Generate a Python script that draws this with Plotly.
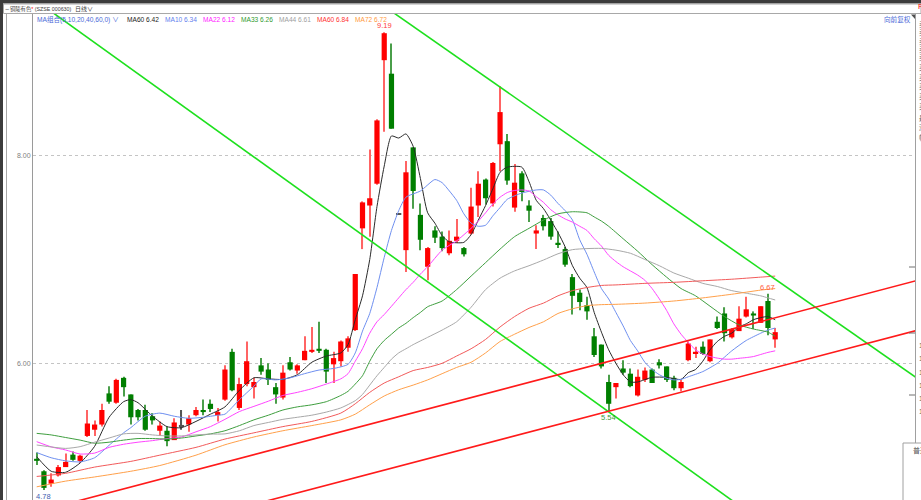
import plotly.graph_objects as go

# daily candles (index 0 = first visible day)
opens = [5.08, 4.96, 4.84, 4.92, 5.00, 5.12, 5.06, 5.30, 5.36, 5.41,
         5.71, 5.62, 5.86, 5.70, 5.55, 5.55, 5.49, 5.35, 5.35, 5.26,
         5.40, 5.41, 5.50, 5.55, 5.61, 5.50, 5.65, 6.11, 5.57, 5.80,
         5.77, 5.98, 5.94, 5.77, 5.67, 6.01, 5.93, 6.03, 6.11, 6.14,
         6.13, 5.99, 6.02, 6.15, 6.32, 7.30, 7.52, 7.73, 8.92, 8.79,
         7.44, 7.09, 8.08, 7.43, 6.93, 7.28, 7.22, 7.06, 7.18, 7.11,
         7.25, 7.52, 7.77, 7.54, 8.11, 8.14, 7.50, 7.83, 7.52, 7.25,
         7.40, 7.37, 7.16, 7.10, 6.83, 6.68, 6.56, 6.26, 6.18, 5.82,
         5.77, 5.95, 5.90, 5.69, 5.84, 5.94, 6.01, 5.97, 5.86, 5.76,
         6.03, 6.10, 6.16, 6.02, 6.40, 6.48, 6.25, 6.31, 6.45, 6.48,
         6.39, 6.60, 6.23]
highs = [5.14, 4.97, 4.94, 5.02, 5.13, 5.15, 5.12, 5.55, 5.45, 5.61,
         5.78, 5.85, 5.87, 5.70, 5.56, 5.60, 5.52, 5.44, 5.39, 5.47,
         5.55, 5.50, 5.58, 5.65, 5.65, 5.57, 5.98, 6.14, 5.86, 6.21,
         5.86, 6.05, 6.00, 5.81, 5.98, 6.06, 5.99, 6.26, 6.35, 6.40,
         6.14, 6.11, 6.22, 6.26, 6.86, 7.56, 8.06, 8.35, 9.19, 9.08,
         7.44, 7.95, 8.08, 7.54, 7.12, 7.32, 7.27, 7.28, 7.39, 7.12,
         7.69, 7.85, 7.78, 7.94, 8.67, 8.21, 7.92, 7.85, 7.57, 7.33,
         7.43, 7.40, 7.27, 7.12, 6.86, 6.71, 6.64, 6.34, 6.18, 5.89,
         5.81, 6.03, 5.95, 5.94, 5.96, 5.95, 6.04, 5.97, 5.88, 5.84,
         6.21, 6.16, 6.21, 6.23, 6.45, 6.54, 6.34, 6.55, 6.64, 6.50,
         6.55, 6.67, 6.34]
lows = [5.02, 4.78, 4.81, 4.91, 5.00, 5.06, 5.04, 5.29, 5.30, 5.39,
        5.61, 5.61, 5.68, 5.41, 5.45, 5.35, 5.41, 5.30, 5.20, 5.26,
        5.36, 5.34, 5.49, 5.50, 5.53, 5.44, 5.64, 5.73, 5.55, 5.78,
        5.66, 5.89, 5.79, 5.61, 5.65, 5.93, 5.90, 6.03, 6.10, 6.10,
        5.81, 5.81, 5.97, 6.11, 6.31, 7.10, 7.22, 7.72, 8.23, 8.26,
        7.44, 6.88, 7.49, 7.09, 6.80, 7.16, 7.08, 7.04, 7.16, 7.03,
        7.24, 7.41, 7.53, 7.51, 7.85, 7.72, 7.46, 7.56, 7.36, 7.10,
        7.28, 7.19, 7.11, 6.93, 6.47, 6.51, 6.42, 6.06, 5.95, 5.54,
        5.66, 5.89, 5.77, 5.68, 5.82, 5.81, 5.95, 5.82, 5.74, 5.73,
        6.02, 6.05, 6.08, 6.01, 6.33, 6.21, 6.24, 6.31, 6.44, 6.33,
        6.39, 6.27, 6.15]
closes = [5.06, 4.80, 4.88, 5.00, 5.05, 5.07, 5.11, 5.42, 5.41, 5.55,
          5.63, 5.84, 5.77, 5.48, 5.48, 5.36, 5.45, 5.40, 5.25, 5.43,
          5.40, 5.47, 5.55, 5.53, 5.56, 5.53, 5.94, 5.74, 5.80, 6.02,
          5.82, 5.92, 5.84, 5.70, 5.91, 5.94, 5.98, 6.12, 6.13, 6.12,
          5.92, 6.05, 6.21, 6.24, 6.86, 7.55, 7.59, 8.34, 9.18, 8.26,
          7.44, 7.84, 7.66, 7.19, 7.11, 7.21, 7.11, 7.18, 7.22, 7.05,
          7.51, 7.73, 7.59, 7.93, 8.42, 7.76, 7.74, 7.65, 7.47, 7.28,
          7.32, 7.22, 7.15, 6.95, 6.65, 6.59, 6.50, 6.08, 5.97, 5.61,
          5.81, 5.91, 5.78, 5.87, 5.93, 5.81, 5.98, 5.84, 5.76, 5.82,
          6.19, 6.11, 6.09, 6.23, 6.34, 6.29, 6.33, 6.43, 6.52, 6.46,
          6.55, 6.34, 6.30]

# moving averages, sampled off the chart at these day indices
ma5_x = [0, 2, 4, 6, 8, 10, 12, 13, 14, 16, 18, 20, 22, 24, 26, 28, 30, 32, 34, 36,
         38, 40, 42, 43, 44, 45, 46, 47, 48, 49, 50, 51, 52, 53, 54, 55, 56, 57, 59, 60,
         61, 62, 63, 64, 65, 67, 68, 69, 70, 72, 73, 74, 75, 76, 77, 78, 79, 80, 81, 82,
         83, 85, 87, 89, 90, 91, 92, 93, 94, 95, 96, 97, 98, 99, 100, 101, 102]
ma5_y = [5.10, 4.96, 4.95, 5.04, 5.20, 5.48, 5.63, 5.65, 5.62, 5.49, 5.39, 5.38, 5.44, 5.51, 5.58, 5.74, 5.86, 5.85, 5.845, 5.89,
         6.01, 6.07, 6.10, 6.18, 6.42, 6.65, 7.00, 7.51, 7.90, 8.19, 8.17, 8.21, 8.09, 7.78, 7.45, 7.35, 7.23, 7.17, 7.165, 7.24,
         7.38, 7.52, 7.68, 7.84, 7.89, 7.89, 7.75, 7.57, 7.49, 7.26, 7.12, 6.94, 6.82, 6.73, 6.49, 6.30, 6.13, 6.00, 5.89, 5.82,
         5.82, 5.865, 5.865, 5.845, 5.91, 5.94, 6.02, 6.13, 6.21, 6.26, 6.29, 6.35, 6.38, 6.42, 6.44, 6.45, 6.42]

ma10_x = [0, 2, 4, 6, 8, 10, 12, 13, 15, 17, 19, 21, 23, 25, 26, 28, 30, 31, 33, 35,
          37, 39, 41, 43, 44, 45, 46, 47, 48, 49, 50, 51, 53, 55, 56, 57, 58, 59, 60, 61,
          62, 63, 64, 65, 67, 69, 70, 71, 72, 73, 74, 75, 76, 77, 78, 79, 80, 81, 82, 83,
          84, 85, 86, 87, 88, 89, 90, 92, 94, 96, 98, 100, 101, 102]
ma10_y = [5.14, 5.09, 5.06, 5.05, 5.09, 5.21, 5.33, 5.38, 5.49, 5.52, 5.49, 5.47, 5.48, 5.50, 5.51, 5.65, 5.78, 5.85, 5.84, 5.86,
          5.90, 5.935, 5.95, 5.99, 6.10, 6.31, 6.48, 6.73, 7.02, 7.28, 7.47, 7.60, 7.66, 7.77, 7.74, 7.66, 7.57, 7.44, 7.35, 7.32,
          7.33, 7.42, 7.50, 7.58, 7.64, 7.67, 7.67, 7.62, 7.54, 7.47, 7.38, 7.19, 7.05, 6.88, 6.72, 6.62, 6.49, 6.36, 6.22, 6.12,
          6.01, 5.94, 5.89, 5.856, 5.84, 5.845, 5.87, 5.92, 6.00, 6.12, 6.22, 6.29, 6.32, 6.34]

ma22_x = [0, 2, 4, 6, 8, 10, 12, 14, 16, 18, 20, 22, 24, 26, 28, 30, 32, 34, 36, 38,
          40, 42, 43, 44, 45, 46, 47, 48, 50, 51, 52, 53, 54, 56, 58, 60,
          61, 62, 63, 64, 65, 66, 67, 68, 69, 70, 71, 72, 73, 74, 75, 76, 77, 78, 79, 80,
          81, 82, 83, 84, 85, 86, 87, 88, 89, 90, 91, 92, 93, 94, 95, 96, 97, 98, 99, 100,
          101, 102]
ma22_y = [5.245, 5.195, 5.165, 5.126, 5.135, 5.19, 5.22, 5.24, 5.255, 5.275, 5.29, 5.34, 5.39, 5.46, 5.535, 5.585, 5.635, 5.69, 5.72, 5.755,
          5.80, 5.85, 5.90, 6.02, 6.14, 6.29, 6.40, 6.47, 6.63, 6.71, 6.78, 6.86, 6.93, 7.09, 7.18, 7.30,
          7.37, 7.45, 7.535, 7.60, 7.645, 7.665, 7.67, 7.66, 7.605, 7.55, 7.48, 7.43, 7.39, 7.36, 7.32, 7.28, 7.20, 7.13, 7.04, 6.98,
          6.93, 6.89, 6.85, 6.80, 6.72, 6.62, 6.51, 6.38, 6.28, 6.20, 6.13, 6.09, 6.065, 6.05, 6.04, 6.04, 6.048, 6.055, 6.065, 6.085,
          6.105, 6.12]

ma33_x = [0, 2, 4, 6, 8, 10, 12, 14, 16, 18, 20, 22, 24, 26, 28, 30, 32, 34, 36, 38,
          40, 42, 43, 44, 45, 46, 47, 48, 49, 50, 51, 52, 53, 54, 56, 58, 60, 62, 64, 66,
          68, 70, 72, 74, 76, 77, 78, 79, 81, 83, 85, 87, 89, 91, 93, 95, 97, 99, 101, 102]
ma33_y = [5.325, 5.31, 5.285, 5.26, 5.23, 5.24, 5.26, 5.275, 5.275, 5.27, 5.28, 5.30, 5.32, 5.35, 5.40, 5.455, 5.50, 5.55, 5.58, 5.60,
          5.63, 5.69, 5.73, 5.80, 5.88, 6.02, 6.14, 6.22, 6.28, 6.34, 6.385, 6.44, 6.49, 6.545, 6.60, 6.71, 6.84, 6.97, 7.10, 7.22,
          7.30, 7.38, 7.44, 7.46, 7.45, 7.41, 7.37, 7.32, 7.20, 7.08, 6.95, 6.83, 6.72, 6.65, 6.55, 6.45, 6.37, 6.33, 6.30, 6.26]

ma44_x = [0, 4, 6, 8, 10, 12, 14, 16, 18, 20, 22, 24, 26, 28, 30, 32, 34, 36, 38, 40,
          42, 44, 45, 46, 47, 48, 49, 50, 51, 52, 54, 56, 58, 60, 62, 64, 66, 68, 70, 72,
          74, 76, 78, 80, 82, 84, 86, 88, 90, 92, 94, 96, 98, 100, 101, 102]
ma44_y = [5.213, 5.18, 5.197, 5.24, 5.28, 5.32, 5.325, 5.31, 5.30, 5.30, 5.31, 5.318, 5.32, 5.35, 5.40, 5.43, 5.46, 5.48, 5.50, 5.53,
          5.57, 5.64, 5.70, 5.79, 5.88, 5.96, 6.04, 6.10, 6.14, 6.18, 6.25, 6.32, 6.40, 6.54, 6.71, 6.82, 6.89, 6.94, 6.995, 7.055,
          7.095, 7.105, 7.107, 7.09, 7.06, 7.00, 6.94, 6.87, 6.82, 6.77, 6.74, 6.70, 6.675, 6.65, 6.63, 6.61]

ma60_x = [0, 4, 8, 13, 17, 22, 26, 30, 34, 38, 42, 44, 46, 48, 50, 52, 54, 56, 58, 60,
          62, 64, 66, 68, 70, 72, 74, 76, 78, 80, 84, 88, 92, 96, 100, 102]
ma60_y = [4.91, 4.94, 5.00, 5.055, 5.115, 5.19, 5.27, 5.33, 5.39, 5.44, 5.52, 5.61, 5.72, 5.81, 5.87, 5.93, 5.96, 6.00, 6.07, 6.14,
          6.23, 6.35, 6.45, 6.53, 6.58, 6.65, 6.70, 6.73, 6.75, 6.755, 6.77, 6.78, 6.795, 6.81, 6.83, 6.84]

ma72_x = [0, 4, 8, 13, 17, 22, 26, 30, 34, 38, 42, 44, 46, 48, 50, 52, 54, 56, 58, 60,
          62, 64, 66, 68, 70, 72, 74, 76, 78, 80, 84, 88, 92, 96, 100, 102]
ma72_y = [4.81, 4.865, 4.905, 4.96, 5.015, 5.115, 5.215, 5.29, 5.35, 5.40, 5.455, 5.51, 5.60, 5.685, 5.745, 5.79, 5.84, 5.90, 5.96, 6.01,
          6.10, 6.21, 6.28, 6.345, 6.40, 6.48, 6.525, 6.555, 6.565, 6.568, 6.58, 6.60, 6.63, 6.665, 6.705, 6.72]

ma_names = ['MA60', 'MA10', 'MA22', 'MA33', 'MA44', 'MA60', 'MA72']

# hand-drawn trend channels (day index, price)
green_a_x, green_a_y = [-2, 105], [9.59, 4.23]
green_b_x, green_b_y = [48, 125], [9.44, 5.69]
red_a_x, red_a_y = [0, 125], [4.57, 6.86]
red_b_x, red_b_y = [25, 125], [4.55, 6.38]

W, H = 921, 500
ML, MR, MT, MB = 33, 6, 14, 0
PW, PH = W - ML - MR, H - MT - MB


def px(x):
    return (x - ML) / PW


def py(y):
    return 1 - (y - MT) / PH


FONT = 'Liberation Sans, Noto Sans CJK SC, sans-serif'
UP, DOWN, FLAT = '#ff0000', '#007f00', '#555555'
UP_WICK, DOWN_WICK = '#ff6464', '#4a9e4a'

days = list(range(len(closes)))
body_base, body_len, body_col, wick_col = [], [], [], []
for o, c in zip(opens, closes):
    lo, hi = min(o, c), max(o, c)
    if hi - lo < 0.012:
        mid = (hi + lo) / 2
        lo, hi = mid - 0.006, mid + 0.006
    body_base.append(lo)
    body_len.append(hi - lo)
    if c > o:
        body_col.append(UP)
        wick_col.append(UP_WICK)
    elif c < o:
        body_col.append(DOWN)
        wick_col.append(DOWN_WICK)
    else:
        body_col.append(FLAT)
        wick_col.append(FLAT)
wick_len = [h - l for h, l in zip(highs, lows)]

fig = go.Figure()

fig.add_trace(go.Bar(x=days, y=wick_len, base=lows, width=0.15,
                     marker=dict(color=wick_col, line_width=0), hoverinfo='skip'))
fig.add_trace(go.Bar(x=days, y=body_len, base=body_base, width=0.72,
                     marker=dict(color=body_col, line_width=0), hoverinfo='skip'))

ma_series = [(ma5_x, ma5_y, '#2a2a2a'), (ma10_x, ma10_y, '#6e8ff0'),
             (ma22_x, ma22_y, '#ff44ff'), (ma33_x, ma33_y, '#3e9e3e'),
             (ma44_x, ma44_y, '#a8a8a8'), (ma60_x, ma60_y, '#f25a5a'),
             (ma72_x, ma72_y, '#ffa04a')]
for mx, my, col in ma_series:
    fig.add_trace(go.Scatter(x=mx, y=my, mode='lines', hoverinfo='skip',
                             line=dict(color=col, width=1, shape='spline', smoothing=0.6)))

for tx, ty, col in [(green_a_x, green_a_y, '#1ee01e'), (green_b_x, green_b_y, '#1ee01e'),
                    (red_a_x, red_a_y, '#ff1a1a'), (red_b_x, red_b_y, '#ff1a1a')]:
    fig.add_trace(go.Scatter(x=tx, y=ty, mode='lines', hoverinfo='skip',
                             line=dict(color=col, width=1.6)))

ann = []
# price labels on extreme candles
hi_day = highs.index(max(highs))
ann.append(dict(x=hi_day, y=highs[hi_day], xref='x', yref='y', text=f'{highs[hi_day]:.2f}',
                showarrow=False, yanchor='bottom', yshift=0, font=dict(size=7.5, color='#ff3b3b')))
ann.append(dict(x=79, y=lows[79], xref='x', yref='y', text=f'{lows[79]:.2f}',
                showarrow=False, yanchor='top', font=dict(size=7.5, color='#3a9a3a')))
ann.append(dict(x=101, y=highs[101], xref='x', yref='y', text=f'{highs[101]:.2f}',
                showarrow=False, yanchor='bottom', font=dict(size=7.5, color='#ff6040')))
ann.append(dict(x=1, y=lows[1], xref='x', yref='y', text=f'{lows[1]:.2f}',
                showarrow=False, yanchor='top', font=dict(size=7.5, color='#4060b0')))

# title strip
ann.append(dict(x=px(1.5), y=py(8.7), xref='paper', yref='paper', text='⇔', showarrow=False,
                xanchor='left', yanchor='middle', font=dict(size=6.5, color='#606060')))
ann.append(dict(x=px(8), y=py(8.7), xref='paper', yref='paper',
                text='铜陵有色<span style="color:#ff0000">*</span> (SZSE 000630)', showarrow=False,
                xanchor='left', yanchor='middle', font=dict(size=5.3, color='#404040')))
ann.append(dict(x=px(73), y=py(8.7), xref='paper', yref='paper', text='日线∨', showarrow=False,
                xanchor='left', yanchor='middle', font=dict(size=6, color='#404040')))

# MA legend row
ann.append(dict(x=px(35), y=py(19), xref='paper', yref='paper', text='MA组合(5,10,20,40,60,0) ∨',
                showarrow=False, xanchor='left', yanchor='middle', font=dict(size=6.6, color='#4a6ad8')))
legend_x = [125, 163, 200.5, 238.5, 276.5, 314.5, 352.5]
legend_col = ['#1a1a1a', '#5f80ee', '#ff22ff', '#2f9a2f', '#a0a0a0', '#ff3030', '#ff9a40']
for name, (mx, my, _), lx, lc in zip(ma_names, ma_series, legend_x, legend_col):
    ann.append(dict(x=px(lx), y=py(19), xref='paper', yref='paper', text=f'{name} {my[-1]:.2f}',
                    showarrow=False, xanchor='left', yanchor='middle', font=dict(size=6.6, color=lc)))

ann.append(dict(x=px(882), y=py(19), xref='paper', yref='paper', text='向前复权', showarrow=False,
                xanchor='left', yanchor='middle', font=dict(size=6.6, color='#4a6ad8')))
ann.append(dict(x=px(916), y=py(6), xref='paper', yref='paper', text='R', showarrow=False,
                xanchor='left', yanchor='middle', font=dict(size=8, color='#ff0000')))

# right-hand quote panel, mostly cut off by the window edge
side_chars = ['卖', '卖', '卖', '卖', '卖', '买', '买', '买', '买', '买', '最', '涨', '幅']
side_y = [25, 33, 42, 50, 58, 68, 78, 87, 97, 107, 118, 128, 137]
for ch, sy in zip(side_chars, side_y):
    ann.append(dict(x=px(916.5), y=py(sy), xref='paper', yref='paper', text=ch, showarrow=False,
                    xanchor='left', yanchor='middle', font=dict(size=7, color='#606060')))
for sy in [345, 358, 372, 385, 398, 411]:
    ann.append(dict(x=px(916.5), y=py(sy), xref='paper', yref='paper', text='1', showarrow=False,
                    xanchor='left', yanchor='middle', font=dict(size=7, color='#606060')))
ann.append(dict(x=px(911), y=py(450), xref='paper', yref='paper', text='普通', showarrow=False,
                xanchor='left', yanchor='middle', font=dict(size=7, color='#505050')))

shapes = [
    dict(type='rect', xref='paper', yref='paper', x0=px(0), x1=px(W), y0=py(0), y1=py(3.5),
         fillcolor='#3c3c3c', line_width=0),
    dict(type='rect', xref='paper', yref='paper', x0=px(3.5), x1=px(W), y0=py(4), y1=py(13.5),
         fillcolor='#ffffff', line=dict(color='#a8a8a8', width=1)),
    dict(type='rect', xref='paper', yref='paper', x0=px(0), x1=px(3), y0=py(0), y1=py(H),
         fillcolor='#3c3c3c', line_width=0),
    dict(type='line', xref='paper', yref='paper', x0=px(6.5), x1=px(6.5), y0=py(14), y1=py(H),
         line=dict(color='#a8a8a8', width=1)),
    dict(type='line', xref='paper', yref='paper', x0=px(915.5), x1=px(915.5), y0=py(14), y1=py(H),
         line=dict(color='#a0a0a0', width=1)),
    dict(type='path', xref='paper', yref='paper',
         path=f'M {px(911)} {py(14.5)} L {px(915)} {py(14.5)} L {px(915)} {py(19)} Z',
         fillcolor='#505050', line_width=0),
    dict(type='rect', xref='paper', yref='paper', x0=px(903), x1=px(W + 2), y0=py(443), y1=py(H + 2),
         fillcolor='#ffffff', line=dict(color='#a0a0a0', width=1)),
]
for ty in [267, 333, 395]:
    shapes.append(dict(type='line', xref='paper', yref='paper', x0=px(909), x1=px(915), y0=py(ty), y1=py(ty),
                       line=dict(color='#707070', width=1)))

fig.update_layout(
    width=W, height=H,
    margin=dict(l=ML, r=MR, t=MT, b=MB, pad=0),
    paper_bgcolor='#ffffff', plot_bgcolor='#ffffff',
    barmode='overlay', showlegend=False, hovermode=False,
    font=dict(family=FONT),
    annotations=ann, shapes=shapes,
    xaxis=dict(range=[-0.51, 121.31], showticklabels=False, showgrid=False, zeroline=False,
               showline=False, ticks='', fixedrange=True),
    yaxis=dict(range=[4.683, 9.365], tick0=0, dtick=2, tickformat='.2f', side='left',
               tickfont=dict(size=7, color='#808080'), showline=True, linecolor='#9a9a9a',
               linewidth=1, showgrid=True, gridcolor='#c4c4c4', griddash='dot', gridwidth=1,
               zeroline=False, ticks='', fixedrange=True),
)

fig.write_html('out.html', config={'displayModeBar': False},
               post_script="document.body.style.margin='0';document.body.style.overflow='hidden';")
